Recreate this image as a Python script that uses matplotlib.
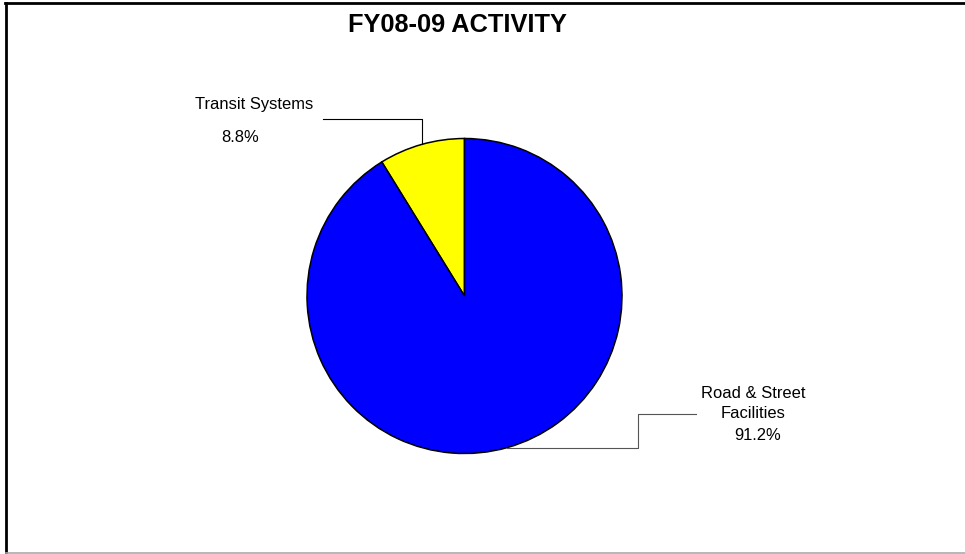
import numpy as np
import matplotlib
matplotlib.use("Agg")
import matplotlib.pyplot as plt
from matplotlib.lines import Line2D

categories = ["Transit Systems", "Road & Street\nFacilities"]
shares = [8.8, 91.2]
colors = ["#FFFF00", "#0000FF"]
title = "FY08-09 ACTIVITY"

W, H = 965, 554
plt.rcParams["font.family"] = ["Liberation Sans", "DejaVu Sans"]

fig = plt.figure(figsize=(W / 100, H / 100), dpi=100)
ax = fig.add_axes([0, 0, 1, 1])

def Y(py):
    # pixel row (top-down) -> data y (bottom-up)
    return H - py

cx, cy, r = 464.5, Y(296), 157.5
wedges, _ = ax.pie(shares, colors=colors, startangle=90, counterclock=True,
                   center=(cx, cy), radius=r, frame=True,
                   wedgeprops=dict(edgecolor="black", linewidth=1.1))
ax.set_xlim(0, W)
ax.set_ylim(0, H)
ax.set_aspect("auto")
ax.axis("off")

def edge_point(w):
    a = np.deg2rad((w.theta1 + w.theta2) / 2)
    return cx + r * np.cos(a), cy + r * np.sin(a)

# Transit Systems leader
x0, y0 = edge_point(wedges[0])
ax.plot([x0, x0, 323], [y0, Y(119), Y(119)], color="black", lw=0.8)
ax.text(254, Y(104), categories[0], ha="center", va="center", fontsize=11.9)
ax.text(240, Y(137), f"{shares[0]:.1f}%", ha="center", va="center", fontsize=11.9)

# Road & Street Facilities leader
x1, y1 = edge_point(wedges[1])
ax.plot([x1, 637.7, 637.7, 696], [y1, y1, Y(414), Y(414)], color="#555555", lw=0.8)
l1, l2 = categories[1].split("\n")
ax.text(753, Y(393), l1, ha="center", va="center", fontsize=11.9)
ax.text(753, Y(413), l2, ha="center", va="center", fontsize=11.9)
ax.text(758, Y(436), f"{shares[1]:.1f}%", ha="center", va="center", fontsize=11.9)

ax.text(457, Y(25), title, ha="center", va="center", fontsize=18.3, fontweight="bold")

# outer frame
ax.add_line(Line2D([5, W], [Y(2.5), Y(2.5)], color="black", lw=2.0))
ax.add_line(Line2D([6, 6], [Y(2.5), Y(553)], color="black", lw=2.0))
ax.add_line(Line2D([6, W], [Y(552.5), Y(552.5)], color="#aaaaaa", lw=1.2))

fig.savefig("out.png", dpi=100)
